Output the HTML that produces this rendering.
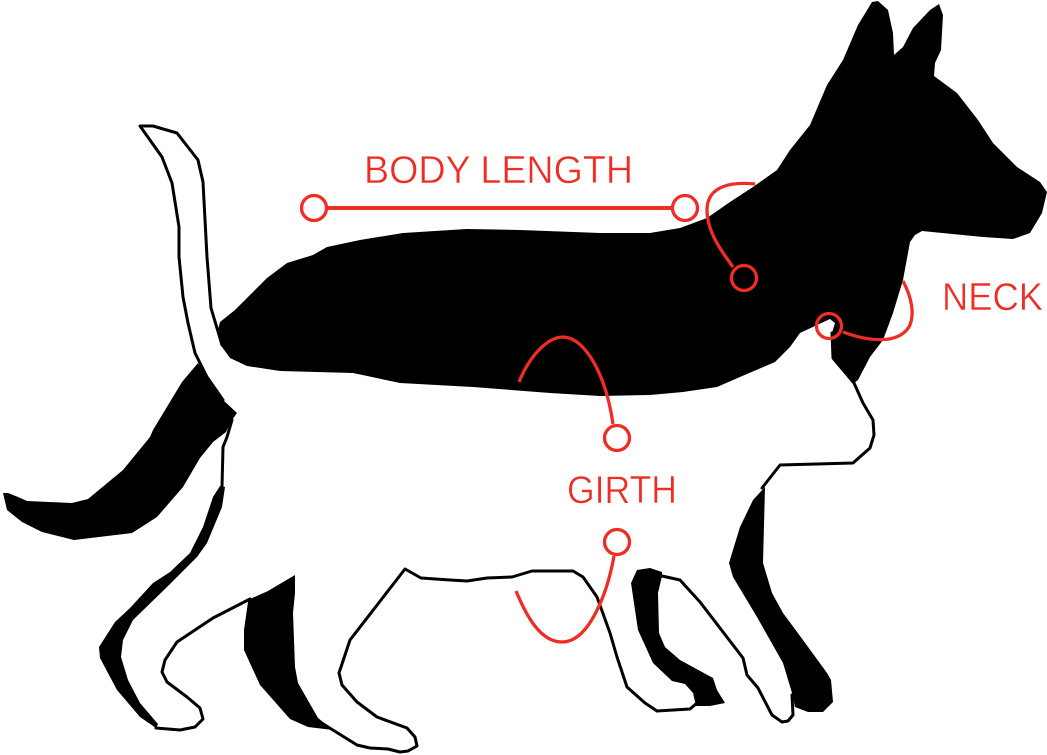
<!DOCTYPE html>
<html><head><meta charset="utf-8"><style>
html,body{margin:0;padding:0;background:#fff;width:1047px;height:755px;overflow:hidden}
svg{display:block}
text{font-family:"Liberation Sans",sans-serif;font-size:39px;fill:#ee2d24;stroke:#fff;stroke-width:.5px;paint-order:fill stroke}
</style></head><body>
<svg width="1047" height="755" viewBox="0 0 1047 755" xmlns="http://www.w3.org/2000/svg">
<rect width="1047" height="755" fill="#fff"/>
<g fill="#000" stroke="none">
<path d="M220,322 L235,310 267,278 287,263 313,255 327,247 360,240 403,233 467,229 520,230 600,233 650,233 680,228 707,218 730,202 753,187 777,170 790,150 810,125 827,85 843,60 858,25 872,2 878,1 888,10 893,33 894,55 903,47 913,28 930,10 939,4 943,15 941,50 935,63 934,76 957,93 978,120 993,143 1017,167 1040,182 1047,192 1042,213 1030,233 1013,239 983,237 922,231 915,235 910,242 903,280 893,313 883,340 870,357 858,380 854,383 833,358 832,333 835,323 830,319 817,325 800,333 790,347 775,362 740,377 717,387 683,392 650,395 600,396 550,393 473,387 400,383 353,373 280,371 247,366 230,358 222,347 218,330 Z"/>
<path d="M198,363 L182,382 153,430 150,437 123,470 88,499 72,503 27,501 18,497 8,493 3,493 7,510 22,522 42,532 74,540 132,533 143,526 157,517 183,487 200,458 213,442 226,432 232,420 237,413 223,400 207,377 Z"/>
<path d="M220,486 L225,487 222,507 207,543 197,557 167,587 133,620 123,640 121,657 128,680 140,703 158,724 156,728 140,717 117,690 100,658 99,647 115,622 130,608 153,583 170,572 190,553 203,527 213,497 Z"/>
<path d="M250,599 L268,591 295,575 295,593 293,613 295,667 298,683 318,718 333,730 308,727 290,719 260,685 244,650 244,630 248,602 Z"/>
<path d="M631,583 L637,570 650,568 662,572 662,576 658,593 659,633 665,647 680,660 713,678 717,690 725,703 710,706 696,706 693,693 685,684 672,681 653,663 638,630 Z"/>
<path d="M765,487 L753,500 740,527 729,563 733,577 757,617 783,663 792,693 795,707 808,712 823,712 833,702 831,680 827,673 803,640 783,613 772,593 763,563 Z"/>
</g>
<g fill="none" stroke="#000" stroke-width="3" stroke-linejoin="round" stroke-linecap="round">
<path d="M222,345 L211,308 207,257 203,182 198,160 177,133 153,126 140,126 162,157 172,183 179,227 179,257 183,297 188,323 195,353 207,377 223,400"/>
<path d="M232,420 L227,437 223,447 222,487"/>
<path d="M156,728 L180,730 195,727 203,719 200,708 187,697 167,682 162,672 165,660 177,642 213,618 250,599"/>
<path d="M320,722 L357,745 370,748 388,749 400,752 408,751 417,746 415,737 407,728 377,717 357,702 342,685 339,673 350,640 405,569 421,578 450,580 467,581 487,578 512,577 532,571 573,571 583,577 597,597 610,633 617,657 627,687 645,703 657,711 690,709 697,703"/>
<path d="M662,576 L680,580 700,602 743,658 747,675 758,688 772,715 782,722 788,721 793,715 792,695"/>
<path d="M762,488 L780,465 853,463 870,448 874,435 873,420 863,403 854,383 833,358 832,333"/>
</g>
<g fill="none" stroke="#ee2d24" stroke-width="3.3">
<circle cx="314" cy="208" r="12.5"/>
<circle cx="685" cy="208" r="12.5"/>
<circle cx="744" cy="278" r="12.5"/>
<circle cx="829" cy="326" r="12.5"/>
<circle cx="617" cy="438" r="12.5"/>
<circle cx="617" cy="542" r="12.5"/>
<path d="M327,208 H672" stroke-width="4"/>
<path d="M755,184 C735,182 707,184 707,210 C707,232 722,252 733,267"/>
<path d="M903,281 C912,298 915,315 909,327 C898,344 870,342 843,332"/>
<path d="M519,382 C530,355 548,337 563,337 C585,337 606,375 613,424"/>
<path d="M614,556 C608,590 590,642 562,642 C540,642 526,615 516,591"/>
</g>
<text x="364" y="183" textLength="269" lengthAdjust="spacingAndGlyphs">BODY LENGTH</text>
<text x="567" y="503" textLength="110" lengthAdjust="spacingAndGlyphs">GIRTH</text>
<text x="942" y="310" textLength="101" lengthAdjust="spacingAndGlyphs">NECK</text>
</svg>
</body></html>
